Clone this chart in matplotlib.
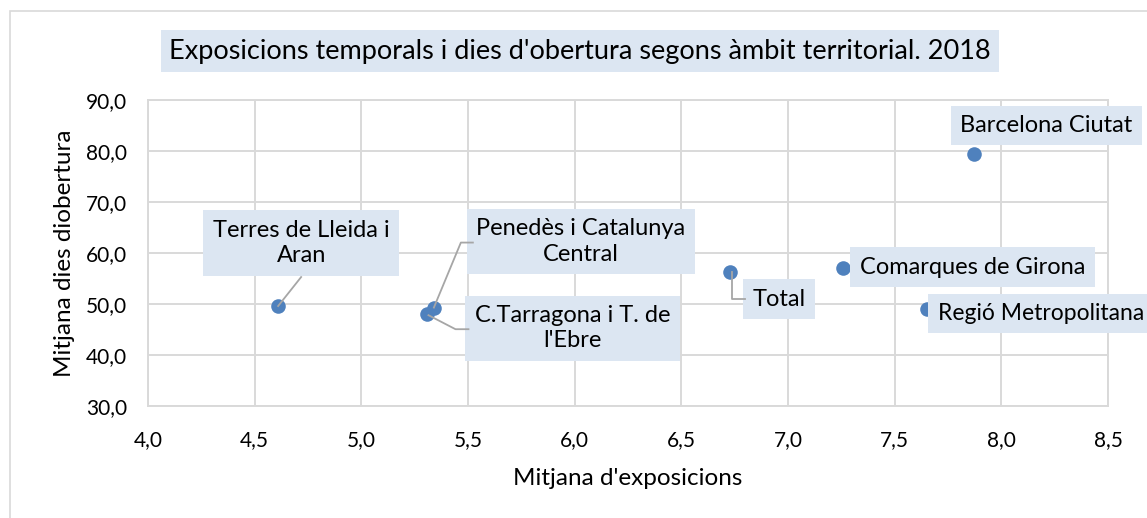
import matplotlib
matplotlib.use("Agg")
import matplotlib.pyplot as plt
import matplotlib.transforms as mtransforms
from matplotlib.lines import Line2D
from matplotlib.patches import Rectangle

plt.rcParams['font.family'] = ['Lato', 'DejaVu Sans']

# ---- data ----
names = ["Terres de Lleida i\nAran", "Penedès i Catalunya\nCentral", "C.Tarragona i T. de\nl'Ebre",
         "Total", "Comarques de Girona", "Regió Metropolitana", "Barcelona Ciutat"]
expos = [4.61, 5.34, 5.31, 6.73, 7.26, 7.65, 7.87]
dies = [49.6, 49.3, 48.0, 56.2, 57.0, 49.1, 79.5]
xticks = [4.0, 4.5, 5.0, 5.5, 6.0, 6.5, 7.0, 7.5, 8.0, 8.5]
yticks = [30, 40, 50, 60, 70, 80, 90]

# ---- styling / layout (pixel offsets of labels from points) ----
label_off = [(23, 63), (147, 66), (145, -14), (49, -27), (129, 1), (114, -5), (73, 28)]
label_size = [17, 17, 17, 17, 17, 16.5, 17]
leaders = {0: [(0, 0), (23, 29)],
           1: [(0, 0), (27, 65), (39, 65)],
           2: [(1, -1), (28, -15), (41, -15)],
           3: [(2, 0), (2, -27), (15, -27)]}

W, H = 1147, 518
fig = plt.figure(figsize=(W / 100, H / 100), dpi=100)
fig.patch.set_facecolor('white')
fig.add_artist(Rectangle((10 / W, -0.1), 1.2, (H - 11) / H + 0.1, transform=fig.transFigure,
                         fill=False, edgecolor='#D9D9D9', linewidth=1.2))

ax = fig.add_axes([148 / W, 1 - 406 / H, (1108 - 148) / W, (406 - 100) / H])
ax.set_xlim(4.0, 8.5)
ax.set_ylim(30, 90)
ax.set_xticks(xticks)
ax.set_yticks(yticks)
ax.set_xticklabels([f"{v:.1f}".replace('.', ',') for v in xticks])
ax.set_yticklabels([f"{v:.1f}".replace('.', ',') for v in yticks])
ax.tick_params(axis='y', length=0, labelsize=15, pad=15)
ax.tick_params(axis='x', length=0, labelsize=15, pad=17)
ax.grid(True, color='#D9D9D9', linewidth=1.4)
ax.set_axisbelow(True)
for s in ax.spines.values():
    s.set_color('#D9D9D9')
    s.set_linewidth(1.4)

ax.set_xlabel("Mitjana d'exposicions", fontsize=17.5, labelpad=13)
ax.set_ylabel("Mitjana dies diobertura", fontsize=17.5, labelpad=8)

ax.scatter(expos, dies, s=110, color='#4F81BD', zorder=4, linewidths=0)

for i, (x, y) in enumerate(zip(expos, dies)):
    ax.annotate(names[i], (x, y), xytext=label_off[i], textcoords='offset pixels',
                ha='center', va='center', fontsize=label_size[i], linespacing=1.25,
                bbox=dict(boxstyle='square,pad=0.4', facecolor='#DCE6F2', edgecolor='none'),
                zorder=5, annotation_clip=False)

for i, verts in leaders.items():
    px, py = ax.transData.transform((expos[i], dies[i]))
    xs = [px + dx for dx, dy in verts]
    ys = [py + dy for dx, dy in verts]
    fig.add_artist(Line2D(xs, ys, transform=mtransforms.IdentityTransform(),
                          color='#A6A6A6', linewidth=1.3, zorder=3))

fig.text(580 / W, 1 - 51 / H, "Exposicions temporals i dies d'obertura segons àmbit territorial. 2018",
         ha='center', va='center', fontsize=19.5,
         bbox=dict(boxstyle='square,pad=0.3', facecolor='#DCE6F2', edgecolor='none'))

fig.savefig('out.png', dpi=100)
